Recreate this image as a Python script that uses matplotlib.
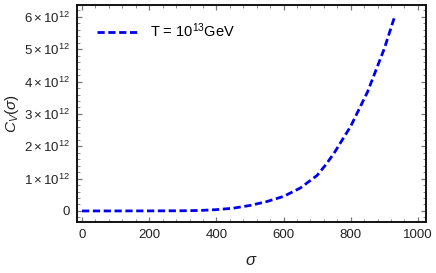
import matplotlib
matplotlib.use("Agg")
import matplotlib.pyplot as plt
from matplotlib.ticker import MultipleLocator, FuncFormatter
import numpy as np

# --- data ---
sigma = [0, 100, 200, 300, 350, 400, 450, 500, 550, 600, 650, 700, 725, 750, 800, 850, 900, 932]
cv = [0.0, 0.0005, 0.002, 0.006, 0.015, 0.04, 0.085, 0.17, 0.29, 0.45, 0.71, 1.10, 1.42, 1.78, 2.62, 3.68, 5.02, 6.05]  # x 1e12
label = r"T = 10$^{13}$GeV"

plt.rcParams["font.family"] = ["Liberation Sans", "DejaVu Sans"]
plt.rcParams["mathtext.fontset"] = "custom"
plt.rcParams["mathtext.rm"] = "Liberation Sans"
plt.rcParams["mathtext.it"] = "Liberation Sans:italic"

fig = plt.figure(figsize=(4.36, 2.73), dpi=100)
ax = fig.add_axes([0.1766, 0.187, 0.8004, 0.795])

ax.plot(sigma, np.array(cv) * 1e12, color="#0000ee", lw=2.0,
        linestyle=(0, (2.6, 1.3)), label=label)

ax.set_xlim(-15, 1024)
ax.set_ylim(-0.34e12, 6.37e12)

ax.xaxis.set_major_locator(MultipleLocator(200))
ax.xaxis.set_minor_locator(MultipleLocator(40))
ax.yaxis.set_major_locator(MultipleLocator(1e12))
ax.yaxis.set_minor_locator(MultipleLocator(0.2e12))


def fmt(v, pos):
    n = int(round(v / 1e12))
    if n == 0:
        return "0"
    return r"$%d\times10^{12}$" % n


ax.yaxis.set_major_formatter(FuncFormatter(fmt))

ax.tick_params(which="both", direction="in", top=True, right=True,
               color="#777777", labelsize=9.5, labelcolor="#222222")
ax.tick_params(which="major", length=3.5, width=0.9, pad=5)
ax.tick_params(which="minor", length=2, width=0.6)

for s in ax.spines.values():
    s.set_linewidth(1.4)
    s.set_color("#111111")

ax.set_xlabel(r"$\sigma$", fontsize=12, labelpad=9, color="#222222")
ax.set_ylabel(r"$C_V(\sigma)$", fontsize=11, labelpad=2, color="#222222")

ax.legend(loc="upper left", frameon=False, fontsize=10.5, handlelength=2.9,
          handletextpad=0.7, borderaxespad=0.5, bbox_to_anchor=(0.02, 0.985))

fig.savefig("out.png", dpi=100)
